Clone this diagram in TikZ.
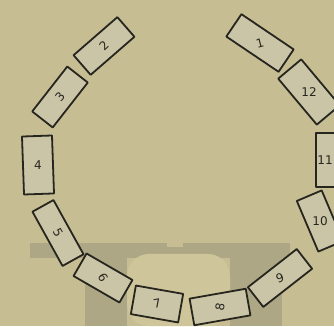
\documentclass[tikz,border=0pt]{standalone}
\usepackage{fontspec}
\setmainfont{DejaVu Sans}
\begin{document}
\begin{tikzpicture}[x=1pt,y=1pt,
  box/.style={draw=ink, line width=1.8pt, fill=boxfill, rectangle, inner sep=0pt, line join=round},
  num/.style={text=ink, font=\fontsize{12}{12}\selectfont, inner sep=0pt}]
\definecolor{bg}{RGB}{198,189,147}
\definecolor{band}{RGB}{174,167,133}
\definecolor{lightbg}{RGB}{207,197,154}
\definecolor{boxfill}{RGB}{203,197,167}
\definecolor{ink}{RGB}{38,38,30}
\useasboundingbox (0,0) rectangle (334,326);
% background
\fill[bg] (0,0) rectangle (334,326);
\fill[band] (30,68) rectangle (290,83);
\fill[bg] (167,79) rectangle (183,83);
\fill[band] (85,0) rectangle (127,68);
\fill[band] (230,0) rectangle (282,68);
\fill[lightbg, rounded corners=22pt] (127,0) -- (127,72) -- (230,72) -- (230,0) -- cycle;
% boxes
\node[box, minimum width=63pt, minimum height=27pt, rotate=-34] (b1) at (260,283) {};
\node[box, minimum width=60pt, minimum height=30pt, rotate=-50] (b12) at (309,234) {};
\node[box, minimum width=54pt, minimum height=30pt, rotate=-90] (b11) at (331,166) {};
\node[box, minimum width=55pt, minimum height=27pt, rotate=-67] (b10) at (320,105) {};
\node[box, minimum width=62pt, minimum height=25pt, rotate=38] (b9) at (280,48) {};
\node[box, minimum width=57pt, minimum height=27pt, rotate=10] (b8) at (220,19) {};
\node[box, minimum width=48pt, minimum height=29pt, rotate=-10] (b7) at (157,22) {};
\node[box, minimum width=53pt, minimum height=26pt, rotate=-30] (b6) at (103,48) {};
\node[box, minimum width=62pt, minimum height=24pt, rotate=-61] (b5) at (58,93) {};
\node[box, minimum width=58pt, minimum height=30pt, rotate=-88] (b4) at (38,161) {};
\node[box, minimum width=57pt, minimum height=26pt, rotate=52] (b3) at (60,229) {};
\node[box, minimum width=58pt, minimum height=26pt, rotate=41] (b2) at (104,280) {};
% labels
\node[num, rotate=15] (l1) at (b1.center) {1};
\node[num] (l12) at (b12.center) {12};
\node[num] (l11) at ([xshift=-6pt]b11.center) {11};
\node[num] (l10) at (b10.center) {10};
\node[num, rotate=20] (l9) at (b9.center) {9};
\node[num, rotate=80] (l8) at (b8.center) {8};
\node[num, rotate=10] (l7) at (b7.center) {7};
\node[num, rotate=-60] (l6) at (b6.center) {6};
\node[num, rotate=-60] (l5) at (b5.center) {5};
\node[num] (l4) at (b4.center) {4};
\node[num, rotate=50] (l3) at (b3.center) {3};
\node[num, rotate=45] (l2) at (b2.center) {2};
\end{tikzpicture}
\end{document}
